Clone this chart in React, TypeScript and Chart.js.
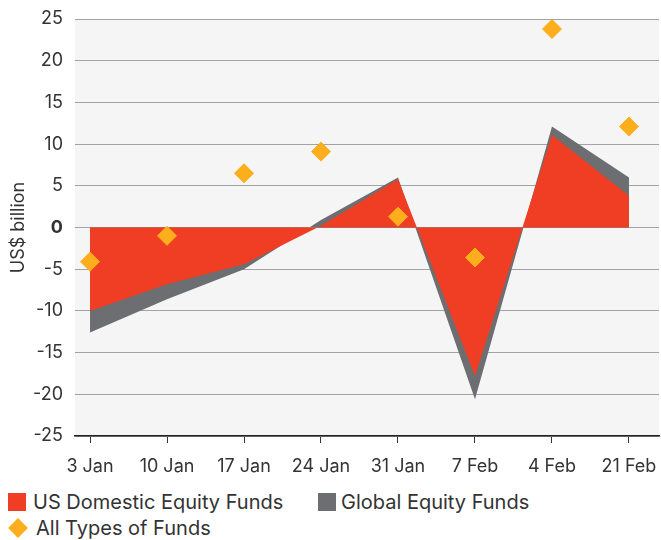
import React, { useEffect, useRef } from "react";
import { Chart, registerables } from "chart.js";

Chart.register(...registerables);

const categories = ["3 Jan", "10 Jan", "17 Jan", "24 Jan", "31 Jan", "7 Feb", "4 Feb", "21 Feb"];
const usDomestic = [-10.0, -6.8, -4.4, 0.2, 5.8, -17.8, 11.1, 3.8];
const globalEquity = [-12.6, -8.6, -5.0, 0.9, 6.0, -20.6, 12.1, 6.0];
const allTypes = [-4.1, -1.0, 6.5, 9.1, 1.3, -3.6, 23.8, 12.1];
const yTicks = [-25, -20, -15, -10, -5, 0, 5, 10, 15, 20, 25];

const RED = "#EF3E23";
const GRAY = "#6D6E71";
const ORANGE = "#FDAE1C";
const TEXT = "#333333";
const FONT = "Inter, 'Liberation Sans', Arial, sans-serif";

const toPoints = (arr: number[]) => arr.map((v, i) => ({ x: i, y: v }));

const bgPlugin = {
  id: "plotBg",
  beforeDraw(chart: any) {
    const { ctx, chartArea } = chart;
    if (!chartArea) return;
    ctx.save();
    ctx.fillStyle = "#F5F5F5";
    ctx.fillRect(chartArea.left, chartArea.top, chartArea.right - chartArea.left, chartArea.bottom - chartArea.top);
    ctx.restore();
  },
};

export default function App() {
  const ref = useRef<HTMLCanvasElement | null>(null);

  useEffect(() => {
    if (!ref.current) return;
    const chart = new Chart(ref.current, {
      type: "line",
      data: {
        datasets: [
          {
            label: "All Types of Funds",
            data: toPoints(allTypes),
            showLine: false,
            pointStyle: "rectRot",
            pointRadius: 9.5,
            pointBackgroundColor: ORANGE,
            pointBorderColor: ORANGE,
            pointBorderWidth: 1,
            order: 0,
          },
          {
            label: "US Domestic Equity Funds",
            data: toPoints(usDomestic),
            fill: "origin",
            backgroundColor: RED,
            borderColor: RED,
            borderWidth: 0,
            pointRadius: 0,
            tension: 0,
            order: 1,
          },
          {
            label: "Global Equity Funds",
            data: toPoints(globalEquity),
            fill: "origin",
            backgroundColor: GRAY,
            borderColor: GRAY,
            borderWidth: 0,
            pointRadius: 0,
            tension: 0,
            order: 2,
          },
        ],
      },
      options: {
        animation: false,
        responsive: false,
        devicePixelRatio: 1,
        layout: { autoPadding: false, padding: { top: 19, right: 2, left: 0, bottom: 0 } },
        plugins: {
          legend: { display: false },
          tooltip: { enabled: false },
        },
        scales: {
          x: {
            type: "linear",
            min: -0.195,
            max: 7.39,
            afterBuildTicks: (scale: any) => {
              scale.ticks = categories.map((_, i) => ({ value: i }));
            },
            afterFit: (scale: any) => {
              scale.height = 44;
              scale.paddingLeft = 0;
              scale.paddingRight = 0;
            },
            ticks: {
              autoSkip: false,
              maxRotation: 0,
              padding: 13,
              color: TEXT,
              font: { family: FONT, size: 18 },
              callback: (v: any) => categories[Math.round(Number(v))] ?? "",
            },
            grid: {
              drawOnChartArea: false,
              drawTicks: true,
              tickLength: 7,
              tickColor: "#333333",
              lineWidth: 1,
            },
            border: { display: true, color: "#222222", width: 1.5 },
          },
          y: {
            min: -25,
            max: 25,
            afterBuildTicks: (scale: any) => {
              scale.ticks = yTicks.map((v) => ({ value: v }));
            },
            afterFit: (scale: any) => {
              scale.width = 75;
              scale.paddingTop = 0;
              scale.paddingBottom = 0;
            },
            ticks: {
              padding: 12,
              color: TEXT,
              font: (ctx: any) => ({
                family: FONT,
                size: 18,
                weight: ctx.tick && ctx.tick.value === 0 ? "bold" : "normal",
              }),
            },
            grid: { color: "#A3A3A3", lineWidth: 1, drawTicks: false },
            border: { display: false },
            title: {
              display: true,
              text: "US$ billion",
              color: TEXT,
              font: { family: FONT, size: 18 },
              padding: { top: 8, bottom: 0 },
            },
          },
        },
      },
      plugins: [bgPlugin],
    });
    return () => chart.destroy();
  }, []);

  const textStyle: React.CSSProperties = {
    position: "absolute",
    fontFamily: FONT,
    fontSize: 20,
    lineHeight: "20px",
    color: TEXT,
    whiteSpace: "nowrap",
  };

  return (
    <div style={{ position: "absolute", left: 0, top: 0, width: 661, height: 540, background: "#fff" }}>
      <canvas ref={ref} width={661} height={480} style={{ position: "absolute", left: 0, top: 0 }} />
      <div style={{ position: "absolute", left: 8, top: 493, width: 18, height: 18, background: RED }} />
      <span style={{ ...textStyle, left: 33, top: 492 }}>US Domestic Equity Funds</span>
      <div style={{ position: "absolute", left: 318, top: 493, width: 18, height: 18, background: GRAY }} />
      <span style={{ ...textStyle, left: 341, top: 492 }}>Global Equity Funds</span>
      <div
        style={{
          position: "absolute",
          left: 11,
          top: 521,
          width: 14,
          height: 14,
          background: ORANGE,
          transform: "rotate(45deg)",
        }}
      />
      <span style={{ ...textStyle, left: 36, top: 518 }}>All Types of Funds</span>
    </div>
  );
}
